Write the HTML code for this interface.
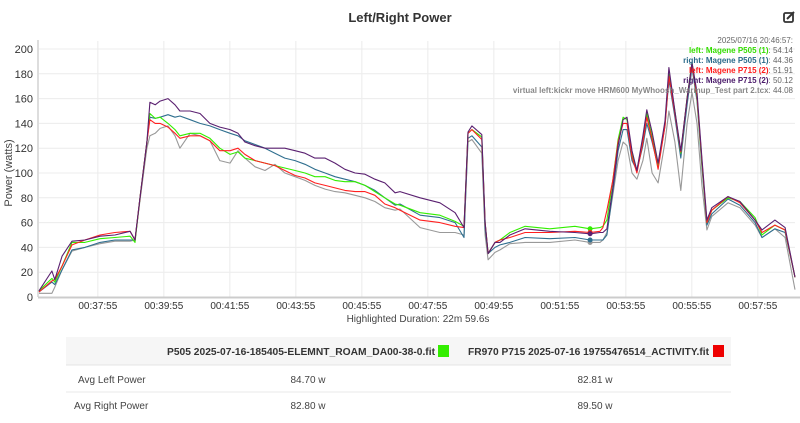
<!DOCTYPE html>
<html><head><meta charset="utf-8"><style>
body{margin:0;width:800px;height:418px;overflow:hidden;background:#fff;font-family:"Liberation Sans",sans-serif;}
svg text{font-family:"Liberation Sans",sans-serif;}
</style></head><body>
<svg id="c" width="800" height="418">
<text x="400" y="22" text-anchor="middle" font-size="13" font-weight="bold" fill="#333">Left/Right Power</text>
<g>
<rect x="784" y="13" width="9" height="9" rx="1.5" fill="none" stroke="#333" stroke-width="1.8"/>
<path d="M787 19 L794 12" stroke="#333" stroke-width="2"/>
</g>
<g id="grid"></g>
<g id="axes"></g>
<g id="lines"></g>
<g id="dots"></g>
<text x="12" y="173" transform="rotate(-90 12 173)" text-anchor="middle" font-size="11" fill="#444">Power (watts)</text>
<text x="418" y="322" text-anchor="middle" font-size="10" fill="#444">Highlighted Duration: 22m 59.6s</text>
<g font-size="8" text-anchor="end">
<text x="793" y="43" fill="#666">2025/07/16 20:46:57:</text>
<text x="793" y="53"><tspan fill="#33dd00" font-weight="bold">left: Magene P505 (1)</tspan><tspan fill="#666">: 54.14</tspan></text>
<text x="793" y="63"><tspan fill="#2a6a8a" font-weight="bold">right: Magene P505 (1)</tspan><tspan fill="#666">: 44.36</tspan></text>
<text x="793" y="73"><tspan fill="#ff1a1a" font-weight="bold">left: Magene P715 (2)</tspan><tspan fill="#666">: 51.91</tspan></text>
<text x="793" y="83"><tspan fill="#4a1a6a" font-weight="bold">right: Magene P715 (2)</tspan><tspan fill="#666">: 50.12</tspan></text>
<text x="793" y="93"><tspan fill="#888" font-weight="bold">virtual left:kickr move HRM600 MyWhoosh_Warmup_Test part 2.tcx</tspan><tspan fill="#666">: 44.08</tspan></text>
</g>
<g>
<rect x="66" y="337" width="665" height="28" fill="#f6f6f6"/>
<line x1="66" y1="365" x2="731" y2="365" stroke="#e4e4e4"/>
<line x1="66" y1="392" x2="731" y2="392" stroke="#e8e8e8"/>
<text x="167" y="355" textLength="268" lengthAdjust="spacingAndGlyphs" font-size="10" font-weight="bold" fill="#333">P505 2025-07-16-185405-ELEMNT_ROAM_DA00-38-0.fit</text>
<rect x="438" y="345" width="11" height="12" fill="#33ee00"/>
<text x="468" y="355" textLength="241" lengthAdjust="spacingAndGlyphs" font-size="10" font-weight="bold" fill="#333">FR970 P715 2025-07-16 19755476514_ACTIVITY.fit</text>
<rect x="713" y="345" width="11" height="12" fill="#ee0000"/>
<text x="78" y="383" font-size="10" fill="#444">Avg Left Power</text>
<text x="308" y="383" text-anchor="middle" font-size="10" fill="#444">84.70 w</text>
<text x="595" y="383" text-anchor="middle" font-size="10" fill="#444">82.81 w</text>
<text x="74" y="409" font-size="10" fill="#444">Avg Right Power</text>
<text x="308" y="409" text-anchor="middle" font-size="10" fill="#444">82.80 w</text>
<text x="595" y="409" text-anchor="middle" font-size="10" fill="#444">89.50 w</text>
</g>
</svg>
<script>
const times=[0,0.39,0.48,0.70,1.00,1.39,1.85,2.30,2.76,2.91,3.06,3.27,3.36,3.52,3.67,3.91,4.12,4.27,4.58,4.88,5.18,5.48,5.79,6.03,6.24,6.55,6.85,7.15,7.45,7.76,8.06,8.36,8.67,8.97,9.27,9.58,9.88,10.18,10.48,10.79,10.94,11.55,12.15,12.61,12.88,13.00,13.12,13.42,13.52,13.61,13.82,13.97,14.27,14.73,15.48,16.24,16.70,17.00,17.09,17.21,17.39,17.55,17.70,17.82,17.97,18.12,18.30,18.42,18.58,18.76,18.97,19.09,19.27,19.45,19.64,19.79,19.94,20.09,20.24,20.39,20.88,21.24,21.70,21.91,22.30,22.61,22.91];
const leftP505=[5,15,12,25,44,44,47,48,49,44,80,125,148,144,145,140,135,130,132,132,128,120,115,117,112,110,108,106,104,102,100,97,97,94,93,93,90,85,80,75,74,68,66,61,57,132,135,129,60,35,44,46,52,57,55,57,55,56,57,62,94,127,145,143,115,102,127,148,129,105,140,180,150,116,161,189,161,108,60,70,80,77,64,50,58,54,16];
const rightP505=[4,12,10,22,38,40,44,46,46,46,80,125,145,144,145,147,145,146,143,140,138,135,132,130,126,123,120,116,112,110,107,103,100,97,95,93,90,86,80,74,75,66,64,60,48,128,130,121,55,35,40,42,44,48,47,48,46,46,46,50,85,118,135,135,110,102,122,140,125,105,138,175,145,112,155,185,158,105,58,67,79,74,60,48,55,52,16];
const leftP715=[4,13,14,25,42,46,50,52,53,46,80,125,143,140,140,137,132,128,130,130,126,118,118,120,115,110,108,106,102,98,96,92,90,88,86,85,85,82,75,72,70,62,60,57,56,132,135,127,60,35,44,46,48,52,52,53,52,53,56,70,94,125,140,140,113,100,125,145,127,103,138,178,148,117,160,188,162,110,60,70,81,76,62,52,58,54,16];
const rightP715=[5,21,14,33,45,46,49,50,53,46,80,125,157,155,158,160,155,150,150,148,140,137,135,132,125,122,120,120,120,118,116,112,112,108,103,100,99,95,92,84,85,80,76,68,56,133,138,131,60,35,44,44,50,55,53,52,51,52,52,55,88,122,143,145,118,102,130,151,133,108,142,185,150,118,160,189,165,112,62,72,81,77,62,54,62,56,16];
const virtualLeft=[3,3,8,22,37,40,43,45,45,46,78,120,130,132,136,138,130,120,132,130,126,110,108,118,112,105,102,107,100,97,94,90,87,85,84,82,80,77,72,70,71,56,52,52,50,125,127,116,50,30,36,38,43,44,44,46,44,44,46,52,82,110,125,122,100,95,110,128,100,92,125,150,125,86,140,165,140,90,54,65,76,72,58,48,55,48,6];
const yTicks=[0,20,40,60,80,100,120,140,160,180,200];
const xTickLabels=["00:37:55","00:39:55","00:41:55","00:43:55","00:45:55","00:47:55","00:49:55","00:51:55","00:53:55","00:55:55","00:57:55"];
const hoverIndex=56;
const NS="http://www.w3.org/2000/svg";
const X0=39,X1=795,Y0=297,Y1=49,startSec=36*60+8,spanMin=22.91;
const xs=t=>X0+t*(X1-X0)/spanMin;
const ys=v=>Y0-v*(Y0-Y1)/200;
const lab=s=>{const p=s.split(':').map(Number);return (p[0]*3600+p[1]*60+p[2]-startSec)/60;};
function mk(tag,attrs,parent){const e=document.createElementNS(NS,tag);for(const k in attrs)e.setAttribute(k,attrs[k]);parent.appendChild(e);return e;}
const grid=document.getElementById('grid'),axes=document.getElementById('axes');
yTicks.forEach(v=>{
 const l=mk('line',{x1:X0,x2:X1,y1:ys(v),y2:ys(v),stroke:'#ececec'},grid);
 
 
 const t=mk('text',{x:33,y:ys(v)+4,'text-anchor':'end','font-size':'11',fill:'#333'},axes);
 t.textContent=v;
 
 
});
xTickLabels.forEach(s=>{
 const x=xs(lab(s));
 const l=mk('line',{x1:x,x2:x,y1:Y1-8,y2:Y0,stroke:'#ececec'},grid);
 
 
 const t=mk('text',{x:x,y:Y0+12,'text-anchor':'middle','font-size':'10',fill:'#333'},axes);
 t.textContent=s;
 
 
});
const ya=mk('line',{x1:X0-1,x2:X0-1,y1:40,y2:Y0,stroke:'#bbb'},axes);


const xa=mk('line',{x1:X0-1,x2:X1+5,y1:Y0+0.5,y2:Y0+0.5,stroke:'#ccc','stroke-width':2},axes);


const series=[[virtualLeft,'#999999','virtual-left-line'],[rightP505,'#2f6f8f','right-p505-line'],[leftP505,'#33ee00','left-p505-line'],[leftP715,'#ff2020','left-p715-line'],[rightP715,'#5a2070','right-p715-line']];
const lg=document.getElementById('lines'),dg=document.getElementById('dots');
series.forEach(s=>{
 const d=times.map((t,i)=>(i?'L':'M')+xs(t).toFixed(1)+' '+ys(s[0][i]).toFixed(1)).join(' ');
 const p=mk('path',{d:d,fill:'none',stroke:s[1],'stroke-width':1.1,'stroke-linejoin':'round'},lg);
 
 
 const c=mk('circle',{cx:xs(times[hoverIndex]),cy:ys(s[0][hoverIndex]),r:2.5,fill:s[1]},dg);
 
 
});
</script>
</body></html>
